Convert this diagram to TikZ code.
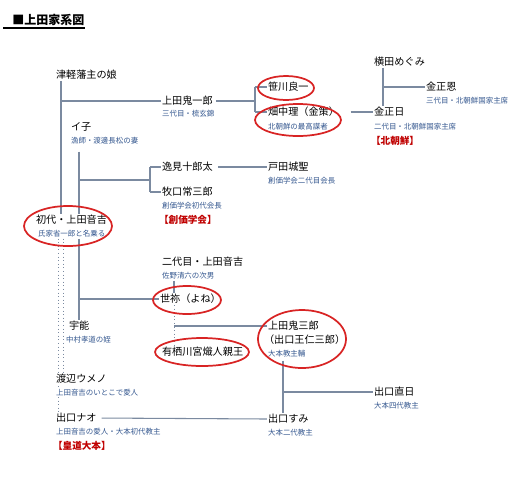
\documentclass[tikz,border=0pt]{standalone}
\usepackage{fontspec}
\newfontfamily\jp{Noto Sans CJK JP}
\usetikzlibrary{backgrounds}
\definecolor{linegray}{HTML}{7B8AA0}
\definecolor{subblue}{HTML}{34578F}
\definecolor{tagred}{HTML}{C00000}
\definecolor{ringred}{HTML}{D82424}
\tikzset{
  nm/.style={anchor=west, inner sep=0.6pt, fill=white, text=black, font=\jp\fontsize{7.6}{8}\selectfont},
  sb/.style={anchor=west, inner sep=0.6pt, fill=white, text=subblue, font=\jp\fontsize{5.6}{6}\selectfont},
  tg/.style={anchor=west, inner sep=0.6pt, fill=white, text=tagred, font=\jp\bfseries\fontsize{7.2}{8}\selectfont},
  ln/.style={draw=linegray, line width=0.8pt},
  dln/.style={draw=linegray, line width=0.7pt, dotted},
  ring/.style={draw=ringred, line width=1.3pt}
}
\begin{document}
\begin{tikzpicture}[x=0.75pt, y=-0.75pt]
\useasboundingbox (0,0) rectangle (532,480);
% title
\node[anchor=west, inner sep=0pt, font=\jp\bfseries\fontsize{9}{10}\selectfont] (title) at (12,20) {■上田家系図};
\draw[line width=0.8pt] (3,28) -- (title.south east |- 0,28);

% nodes
\node[nm] (tsugaru) at (55,75) {津軽藩主の娘};
\node[nm] (kiichiro) at (161,101) {上田鬼一郎};
\node[sb] (kiichiroS) at (161,114) {三代目・梳玄錦};
\node[nm] (sasakawa) at (267,87) {笹川良一};
\node[nm] (hatanaka) at (267,112) {畑中理（金策）};
\node[sb] (hatanakaS) at (267,127) {北朝鮮の最高謀者};
\node[nm] (yokota) at (373,62) {横田めぐみ};
\node[nm] (kju) at (425,87) {金正恩};
\node[sb] (kjuS) at (425,101) {三代目・北朝鮮国家主席};
\node[nm] (kji) at (373,112) {金正日};
\node[sb] (kjiS) at (373,127) {二代目・北朝鮮国家主席};
\node[tg] (kjiT) at (370,141) {【北朝鮮】};
\node[nm] (iko) at (70,127) {イ子};
\node[sb] (ikoS) at (70,141) {漁師・渡邊長松の妻};
\node[nm] (hemmi) at (161,167) {逸見十郎太};
\node[nm] (toda) at (267,167) {戸田城聖};
\node[sb] (todaS) at (267,181) {創価学会二代目会長};
\node[nm] (maki) at (161,192) {牧口常三郎};
\node[sb] (makiS) at (161,206) {創価学会初代会長};
\node[tg] (makiT) at (158,220) {【創価学会】};
\node[nm] (shodai) at (35,220) {初代・上田音吉};
\node[sb] (shodaiS) at (37,234) {氏家省一郎と名乗る};
\node[nm] (nidai) at (161,262) {二代目・上田音吉};
\node[sb] (nidaiS) at (161,276) {佐野清六の次男};
\node[nm] (yone) at (159,299) {世祢（よね）};
\node[nm] (unou) at (68,326) {宇能};
\node[sb] (unouS) at (65,340) {中村孝道の姪};
\node[nm] (ari) at (161,352) {有栖川宮熾人親王};
\node[nm] (oni) at (267,326) {上田鬼三郎};
\node[nm] (oni2) at (263,340) {（出口王仁三郎）};
\node[sb] (oniS) at (267,354) {大本教主輔};
\node[nm] (umeno) at (55,379) {渡辺ウメノ};
\node[sb] (umenoS) at (55,393) {上田音吉のいとこで愛人};
\node[nm] (naohi) at (373,392) {出口直日};
\node[sb] (naohiS) at (373,406) {大本四代教主};
\node[nm] (nao) at (55,418) {出口ナオ};
\node[sb] (naoS) at (55,432) {上田音吉の愛人・大本初代教主};
\node[tg] (naoT) at (52,446) {【皇道大本】};
\node[nm] (sumi) at (267,419) {出口すみ};
\node[sb] (sumiS) at (267,433) {大本二代教主};

% junction columns
\coordinate (c1) at (61,0);
\coordinate (c2) at (255,0);
\coordinate (c3) at (383,0);
\coordinate (c4) at (79,0);
\coordinate (c5) at (150,0);
\coordinate (c6) at (174,0);
\coordinate (c7) at (283,0);
\coordinate (d1) at (58,0);
\coordinate (d2) at (63,0);
\coordinate (r1) at (0,180);

\begin{scope}[on background layer]
% Tsugaru line
\draw[ln] (c1 |- tsugaru.south) -- (c1 |- shodai.north);
\draw[ln] (c1 |- kiichiro.west) -- (kiichiro.west);
% Kiichiro branch
\draw[ln] (kiichiro.east) ++(2,0) -- (c2 |- kiichiro.east);
\draw[ln] (c2 |- sasakawa.west) -- (c2 |- hatanaka.west);
\draw[ln] (c2 |- sasakawa.west) -- (sasakawa.west);
\draw[ln] (c2 |- hatanaka.west) -- (hatanaka.west);
\draw[ln, shorten <=8pt] (hatanaka.east) -- (kji.west);
% Kim line
\draw[ln] (c3 |- yokota.south) -- (c3 |- kji.north);
\draw[ln] (c3 |- kju.west) -- (kju.west);
% Iko branch
\draw[ln] (c4 |- ikoS.south) ++(0,6) -- (c4 |- shodai.north);
\draw[ln] (c4 |- r1) -- (c5 |- r1);
\draw[ln] (c5 |- hemmi.west) -- (c5 |- maki.west);
\draw[ln] (c5 |- hemmi.west) -- (hemmi.west);
\draw[ln] (c5 |- maki.west) -- (maki.west);
\draw[ln, shorten <=3pt] (hemmi.east) -- (toda.west);
% Shodai descendants
\draw[ln] (c4 |- shodaiS.south) -- (c4 |- unou.north);
\draw[ln] (c4 |- yone.west) -- (yone.west);
\draw[dln] (d1 |- shodaiS.south) -- (d1 |- nao.north);
\draw[dln] (d2 |- shodaiS.south) -- (d2 |- umeno.north);
% Nidai / Yone
\draw[ln] (c6 |- nidaiS.south) -- (c6 |- yone.north);
\draw[dln] (c6 |- yone.south) -- (c6 |- ari.north);
\draw[ln] (c6 |- oni.west) -- (oni.west);
% Onisaburo / Sumi
\draw[ln] (c7 |- oniS.south) ++(0,2) -- (c7 |- sumi.north);
\draw[ln] (c7 |- naohi.west) -- (naohi.west);
\draw[ln, shorten <=3pt] (nao.east) -- (sumi.west);
\end{scope}

% red rings
\draw[ring] (286,88) ellipse [x radius=28, y radius=12];
\draw[ring] (298,120) ellipse [x radius=43, y radius=16];
\draw[ring] (68,226) ellipse [x radius=44, y radius=20];
\draw[ring] (187,300) ellipse [x radius=34, y radius=14];
\draw[ring] (202,352) ellipse [x radius=47, y radius=14];
\draw[ring] (302,339) ellipse [x radius=44, y radius=29];
\end{tikzpicture}
\end{document}
